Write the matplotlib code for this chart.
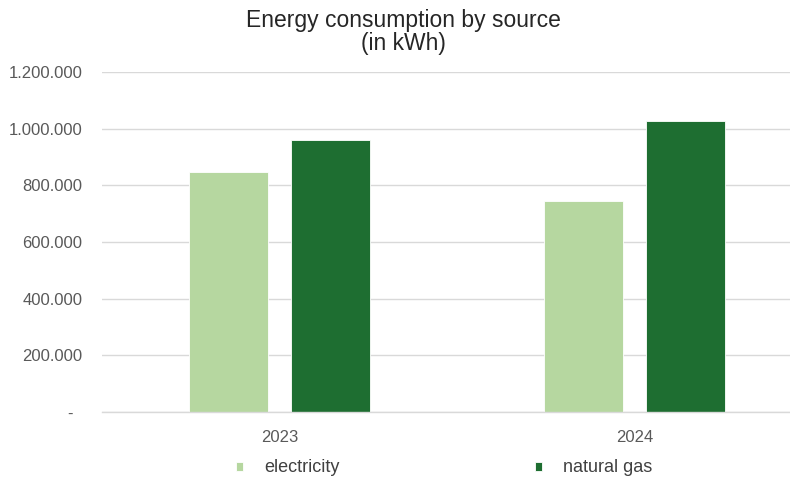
import matplotlib
matplotlib.use("Agg")
import matplotlib.pyplot as plt
from matplotlib.ticker import FuncFormatter, MultipleLocator
import numpy as np

plt.rcParams['font.family'] = ['Liberation Sans', 'DejaVu Sans']

years = ["2023", "2024"]
series_names = ["electricity", "natural gas"]
electricity = [847000, 744000]
natural_gas = [960000, 1028000]

colors = ["#b6d7a0", "#1e6e31"]
text_grey = "#595959"
grid_grey = "#d9d9d9"

W, H = 790, 482
fig = plt.figure(figsize=(W / 100, H / 100), dpi=100)
ax = fig.add_axes([102 / W, 70 / H, 710 / W, 340 / H])

x = np.arange(len(years))
bw = 0.222
off = 0.143
b1 = ax.bar(x - off, electricity, bw, color=colors[0], edgecolor="white",
            linewidth=0.6, label=series_names[0], zorder=3)
b2 = ax.bar(x + off, natural_gas, bw, color=colors[1], edgecolor="white",
            linewidth=0.6, label=series_names[1], zorder=3)

ax.set_xlim(-0.5, 1.5)
ax.set_ylim(0, 1200000)
ax.yaxis.set_major_locator(MultipleLocator(200000))


def fmt(v, pos):
    if v == 0:
        return "-  "
    return f"{int(round(v)):,}".replace(",", ".")


ax.yaxis.set_major_formatter(FuncFormatter(fmt))
ax.set_xticks(x)
ax.set_xticklabels(years)

ax.grid(axis="y", color=grid_grey, linewidth=1.0, zorder=0)
for s in ["top", "right", "left"]:
    ax.spines[s].set_visible(False)
ax.spines["bottom"].set_color(grid_grey)
ax.spines["bottom"].set_linewidth(1.0)
ax.spines["bottom"].set_zorder(4)

ax.tick_params(axis="both", length=0, labelsize=12, labelcolor=text_grey)
ax.tick_params(axis="y", pad=14)
ax.tick_params(axis="x", pad=13)

fig.text(403 / W, 1 - 32 / H, "Energy consumption by source\n(in kWh)",
         ha="center", va="center", fontsize=16.5, color="#262626",
         linespacing=1.05)

leg = fig.legend(handles=[b1, b2], labels=series_names, ncol=2,
                 loc="center left", bbox_to_anchor=(236 / W, 1 - 468 / H),
                 frameon=False, fontsize=13, handlelength=0.39,
                 handleheight=0.39, handletextpad=1.16, columnspacing=10.85,
                 borderpad=0, borderaxespad=0)
for t in leg.get_texts():
    t.set_color("#404040")

fig.savefig("out.png", dpi=100)
